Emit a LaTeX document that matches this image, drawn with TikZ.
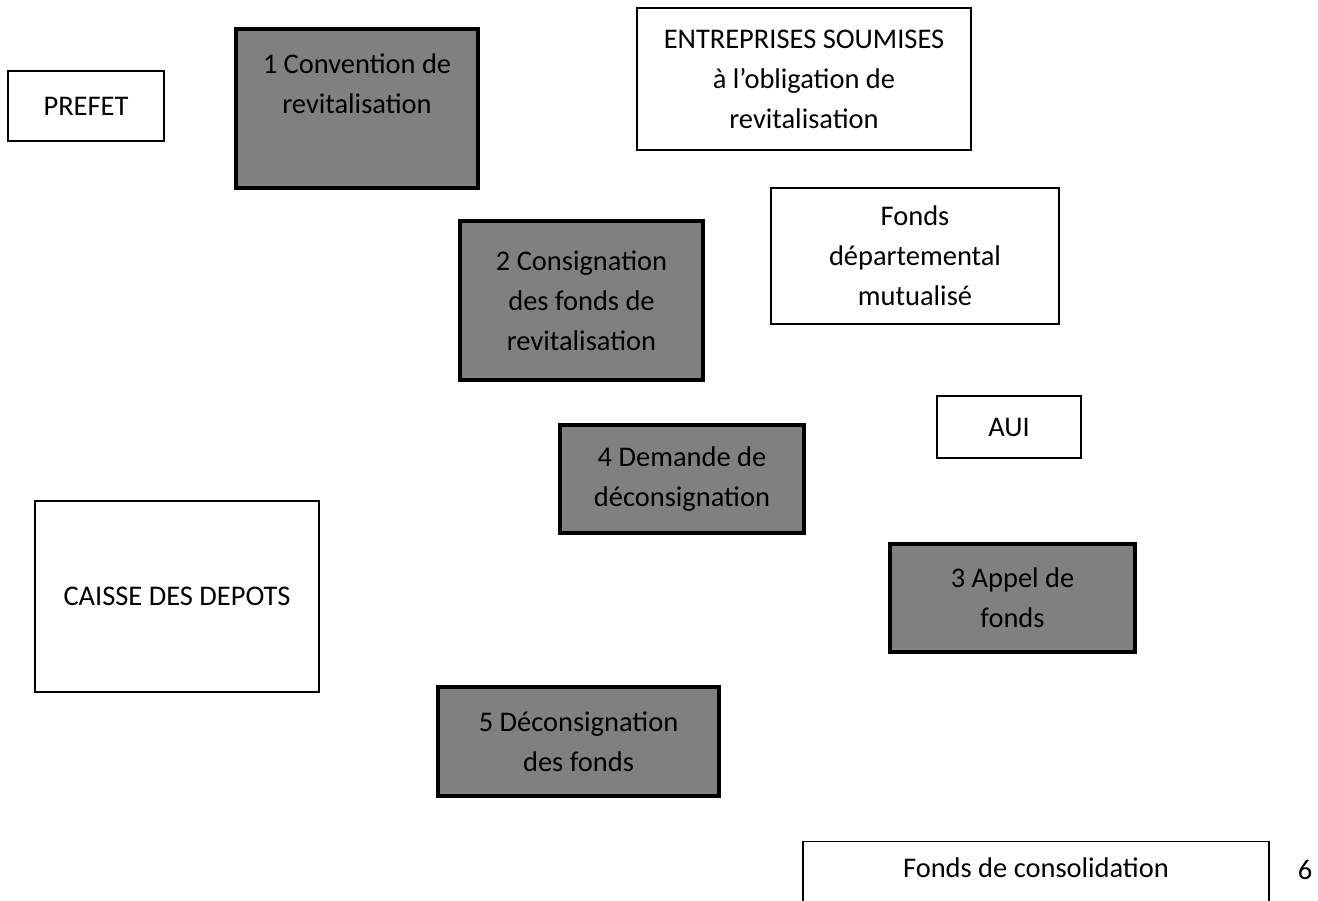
\documentclass[tikz,border=0pt]{standalone}
\usepackage{fontspec}
\setmainfont{Carlito}
\usepackage{tikz}
\usetikzlibrary{shapes.geometric, arrows,calc}
\tikzstyle{whitebox} = [rectangle, font=\fontsize{16.2}{22.8}\selectfont, align=center, draw=black, line width=0.8pt, fill=white]
\tikzstyle{darkbox} = [rectangle, font=\fontsize{16.2}{22.8}\selectfont, align=center, draw=black, line width=2.4pt, fill=black!50]

\begin{document}
\begin{tikzpicture}[x=0.02cm, y=-0.02cm]
\useasboundingbox (0,0) rectangle (1318,901);
\node (prefet) [whitebox, minimum width=3.12cm, minimum height=1.4cm] at (86,106) {PREFET};
\node (convention) [darkbox, minimum width=4.84cm, minimum height=3.18cm] at (357,108.5) {1 Convention de\\revitalisation\\[0.2cm]\mbox{}};
\node (entreprises) [whitebox, minimum width=6.68cm, minimum height=2.84cm] at (804,79) {ENTREPRISES SOUMISES\\à l’obligation de\\revitalisation};
\node (fondsdep) [whitebox, minimum width=5.76cm, minimum height=2.72cm] at (915,256) {Fonds\\départemental\\mutualisé};
\node (consignation) [darkbox, minimum width=4.86cm, minimum height=3.18cm] at (581.5,300.5) {2 Consignation\\des fonds de\\revitalisation};
\node (aui) [whitebox, minimum width=2.88cm, minimum height=1.24cm] at (1009,427) {AUI};
\node (demande) [darkbox, minimum width=4.88cm, minimum height=2.16cm] at (682,479) {4 Demande de\\déconsignation};
\node (caisse) [whitebox, minimum width=5.68cm, minimum height=3.82cm] at (177,596.5) {CAISSE DES DEPOTS};
\node (appel) [darkbox, minimum width=4.9cm, minimum height=2.16cm] at (1012.5,598) {3 Appel de\\fonds};
\node (deconsignation) [darkbox, minimum width=5.62cm, minimum height=2.18cm] at (578.5,741.5) {5 Déconsignation\\des fonds};
\node (consolidation) [whitebox, anchor=north, inner sep=0pt, minimum width=9.32cm, text height=0.72cm, text depth=1.2cm] at (1036,841) {Fonds de consolidation};
\node (numero) [font=\fontsize{16.2}{22.8}\selectfont] at (1305,870) {6};
\end{tikzpicture}
\end{document}
